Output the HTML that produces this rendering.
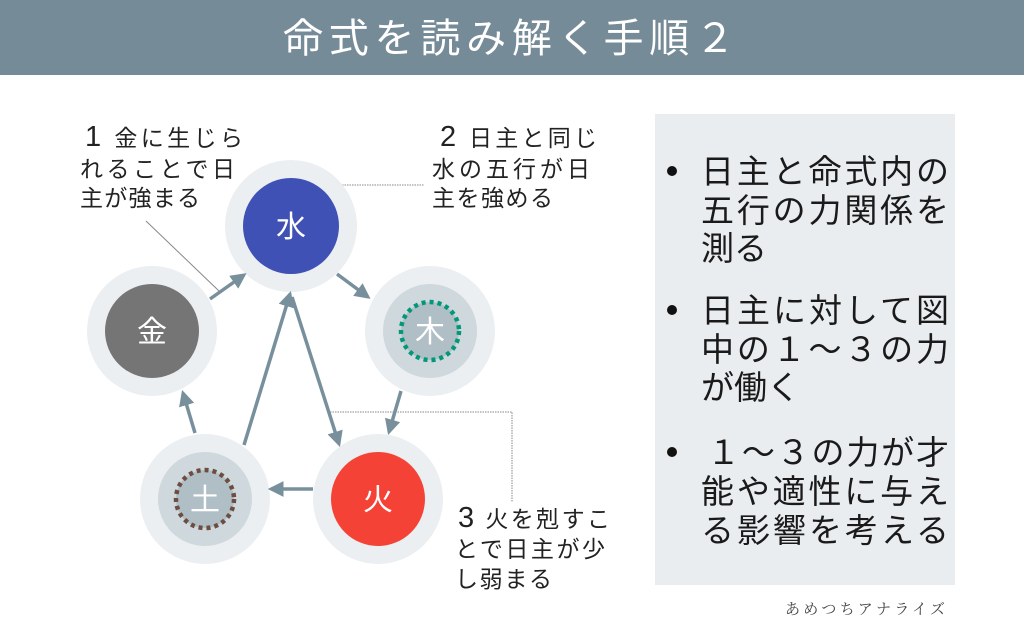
<!DOCTYPE html>
<html><head><meta charset="utf-8"><style>
html,body{margin:0;padding:0;background:#fff}
svg{display:block}
text{font-family:"Liberation Sans","Noto Sans CJK JP",sans-serif}
</style></head><body>
<svg width="1024" height="640" viewBox="0 0 1024 640" xmlns="http://www.w3.org/2000/svg">
<defs>
<marker id="ah" viewBox="0 0 10 10" refX="8" refY="5" markerWidth="4.5" markerHeight="4.5" orient="auto" markerUnits="strokeWidth">
<path d="M0,0 L10,5 L0,10 z" fill="#78909c"/></marker>
</defs>
<rect x="0" y="0" width="1024" height="75" fill="#768b98"/>
<text x="509" y="52" font-size="40" fill="#fff" text-anchor="middle" textLength="452" lengthAdjust="spacing">命式を読み解く手順２</text>

<rect x="655" y="114" width="300" height="471" fill="#eaedf0"/>
<g font-size="33" fill="#1a1a1a">
<circle cx="672" cy="171" r="5" fill="#111"/>
<text x="701" y="183" textLength="248" lengthAdjust="spacing">日主と命式内の</text>
<text x="701" y="222" textLength="248" lengthAdjust="spacing">五行の力関係を</text>
<text x="701" y="260">測る</text>
<circle cx="672" cy="310" r="5" fill="#111"/>
<text x="701" y="322" textLength="248" lengthAdjust="spacing">日主に対して図</text>
<text x="701" y="361" textLength="248" lengthAdjust="spacing">中の１～３の力</text>
<text x="701" y="399">が働く</text>
<circle cx="672" cy="452" r="5" fill="#111"/>
<text x="707" y="464" textLength="242" lengthAdjust="spacing">１～３の力が才</text>
<text x="701" y="503" textLength="248" lengthAdjust="spacing">能や適性に与え</text>
<text x="701" y="542" textLength="248" lengthAdjust="spacing">る影響を考える</text>
</g>
<text x="785" y="614" font-size="15" fill="#444" textLength="160" lengthAdjust="spacing" style="font-family:'Liberation Serif','Noto Serif CJK SC',serif">あめつちアナライズ</text>

<!-- leaders -->
<line x1="146" y1="221" x2="219" y2="291" stroke="#888" stroke-width="1"/>
<line x1="307" y1="185" x2="424" y2="185" stroke="#888" stroke-width="1" stroke-dasharray="1.5,1"/>
<polyline points="330,412 512,412 512,502" fill="none" stroke="#888" stroke-width="1" stroke-dasharray="1.5,1"/>

<!-- circles -->
<g>
<circle cx="291" cy="226" r="66" fill="#eceff1"/>
<circle cx="291" cy="226" r="48" fill="#3f51b5"/>
<circle cx="152" cy="331" r="65" fill="#eceff1"/>
<circle cx="152" cy="331" r="47" fill="#757575"/>
<circle cx="430" cy="331" r="65" fill="#eceff1"/>
<circle cx="430" cy="331" r="47" fill="#cfd8dc"/>
<circle cx="430" cy="331" r="29" fill="#b0bec5" stroke="#009879" stroke-width="4.5" stroke-dasharray="4,4"/>
<circle cx="205" cy="499" r="65" fill="#eceff1"/>
<circle cx="205" cy="499" r="47" fill="#cfd8dc"/>
<circle cx="205" cy="499" r="29" fill="#b0bec5" stroke="#6d4c41" stroke-width="4.5" stroke-dasharray="4,4"/>
<circle cx="378" cy="499" r="65" fill="#eceff1"/>
<circle cx="378" cy="499" r="47" fill="#f44336"/>
</g>
<g font-size="30" fill="#fff" text-anchor="middle">
<text x="291" y="237">水</text>
<text x="152" y="342">金</text>
<text x="430" y="342">木</text>
<text x="205" y="510">土</text>
<text x="378" y="510">火</text>
</g>

<!-- arrows -->
<g stroke="#78909c" stroke-width="3.5" fill="none" marker-end="url(#ah)">
<line x1="337" y1="274" x2="368" y2="297"/>
<line x1="401" y1="391" x2="389" y2="432"/>
<line x1="313" y1="489" x2="271" y2="489"/>
<line x1="195" y1="433" x2="183" y2="393"/>
<line x1="210" y1="299" x2="244" y2="275"/>
<line x1="244" y1="445" x2="290" y2="294"/>
<line x1="292" y1="297" x2="339" y2="444"/>
</g>

<!-- labels -->
<g font-size="23" fill="#222">
<text x="85" y="146" textLength="158" lengthAdjust="spacing"><tspan font-size="29">1</tspan> 金に生じら</text>
<text x="80" y="177" textLength="155" lengthAdjust="spacing">れることで日</text>
<text x="80" y="206" textLength="120" lengthAdjust="spacing">主が強まる</text>
<text x="440" y="146" textLength="157" lengthAdjust="spacing"><tspan font-size="29">2</tspan> 日主と同じ</text>
<text x="432" y="177" textLength="158" lengthAdjust="spacing">水の五行が日</text>
<text x="432" y="206" textLength="121" lengthAdjust="spacing">主を強める</text>
<text x="458" y="527" textLength="152" lengthAdjust="spacing"><tspan font-size="29">3</tspan> 火を剋すこ</text>
<text x="455" y="557" textLength="150" lengthAdjust="spacing">とで日主が少</text>
<text x="455" y="587" textLength="97" lengthAdjust="spacing">し弱まる</text>
</g>
</svg>
</body></html>
